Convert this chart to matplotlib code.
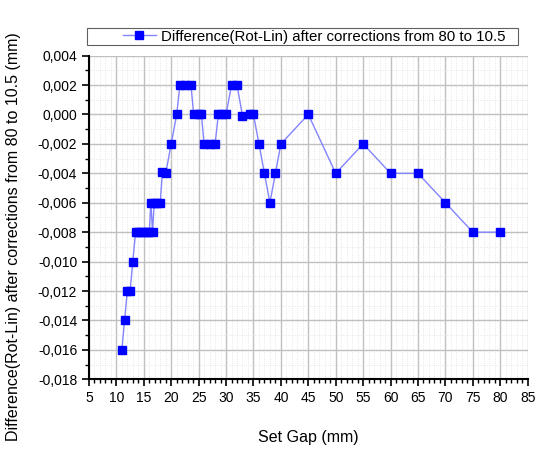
import numpy as np
import matplotlib.pyplot as plt
from matplotlib.patches import Rectangle
from matplotlib.ticker import MultipleLocator, FuncFormatter

plt.rcParams['font.family'] = ['Liberation Sans', 'DejaVu Sans']

# set gap (mm) and difference (mm)
gap = [11, 11.5, 12, 12.5, 13, 13.5, 14, 14.5, 15, 15.5, 16, 16.3, 16.6, 16.9,
       17.5, 18, 18.4, 19, 20, 21, 21.6, 22.6, 23.6, 24.1, 25, 25.5, 26,
       27, 28, 28.6, 29.3, 30, 31, 32, 33, 34.3, 35, 36, 37, 38, 39, 40,
       45, 50, 55, 60, 65, 70, 75, 80]
diff = [-0.016, -0.014, -0.012, -0.012, -0.010, -0.008, -0.008, -0.008, -0.008,
        -0.008, -0.008, -0.006, -0.008, -0.006, -0.006, -0.006, -0.0039, -0.004,
        -0.002, 0.000, 0.002, 0.002, 0.002, 0.000, 0.000, 0.000, -0.002,
        -0.002, -0.002, 0.000, 0.000, 0.000, 0.002, 0.002, -0.0001, 0.000, 0.000,
        -0.002, -0.004, -0.006, -0.004, -0.002,
        0.000, -0.004, -0.002, -0.004, -0.004, -0.006, -0.008, -0.008]
series_label = 'Difference(Rot-Lin) after corrections from 80 to 10.5'

fig = plt.figure(figsize=(5.39, 4.54), dpi=100)
ax = fig.add_axes([0.165, 0.1645, 0.814, 0.713])

ax.plot(gap, diff, color='#8484ff', lw=1.0, marker='s', markersize=5.2,
        markerfacecolor='#0000ff', markeredgecolor='#0000ff',
        label=series_label)

ax.set_xlim(5, 85)
ax.set_ylim(-0.018, 0.004)
ax.xaxis.set_major_locator(MultipleLocator(5))
ax.xaxis.set_minor_locator(MultipleLocator(1))
ax.yaxis.set_major_locator(MultipleLocator(0.002))
ax.yaxis.set_minor_locator(MultipleLocator(0.001))
ax.yaxis.set_major_formatter(FuncFormatter(lambda v, p: ('%.3f' % v).replace('.', ',').replace('-0,000', '0,000')))

ax.grid(which='major', color='#c0c0c0', lw=1.0)
ax.grid(which='minor', color='#e0e0e0', lw=0.6, ls=':')
ax.set_axisbelow(True)

for s in ['top', 'right']:
    ax.spines[s].set_visible(False)
for s in ['left', 'bottom']:
    ax.spines[s].set_linewidth(1.5)

ax.tick_params(which='major', direction='out', length=5, width=1.2, labelsize=10)
ax.tick_params(which='minor', direction='out', length=3, width=1.0)

ax.set_xlabel('Set Gap (mm)', fontsize=11.5, labelpad=18)
ax.set_ylabel('Difference(Rot-Lin) after corrections from 80 to 10.5 (mm)', fontsize=11.5)
ax.yaxis.set_label_coords(-0.155, 0.44)

# legend box (wider than its contents, as in the original)
ax.add_patch(Rectangle((-0.005, 1.033), 0.983, 0.053, transform=ax.transAxes,
                       fill=False, edgecolor='#606060', lw=0.8, clip_on=False))
leg = ax.legend(loc='center right', bbox_to_anchor=(0.95, 1.059), fontsize=10.8,
                frameon=False, handlelength=2.2, handletextpad=0.35,
                borderpad=0, borderaxespad=0)

fig.savefig('out.png', dpi=100)
